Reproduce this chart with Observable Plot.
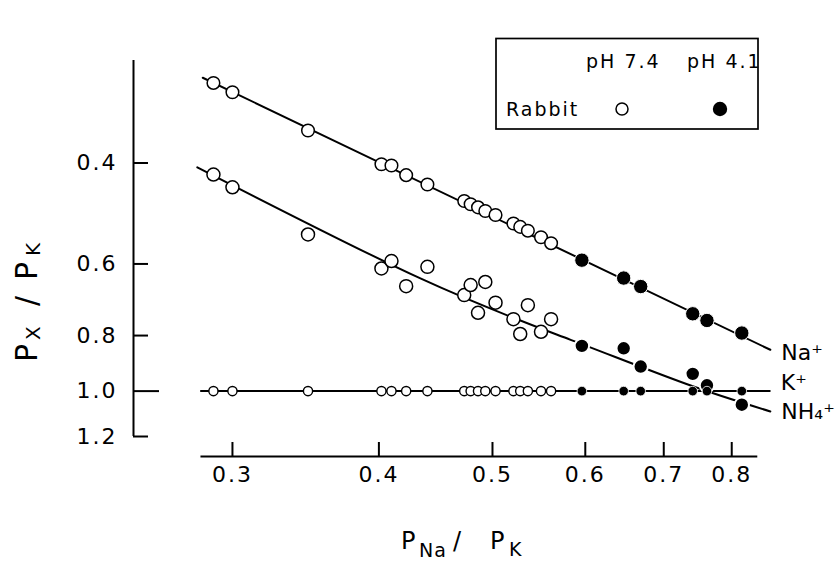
<!DOCTYPE html>
<html>
<head>
<meta charset="utf-8">
<script src="https://cdn.jsdelivr.net/npm/d3@7"></script>
<script src="https://cdn.jsdelivr.net/npm/@observablehq/plot@0.6"></script>
<style>
  body { margin: 0; background: #fff; }
  #wrap { position: relative; width: 838px; height: 562px; background: #fff; }
  #wrap svg { position: absolute; left: 0; top: 0; }
  g[aria-label$="tick label"] { letter-spacing: 2px; }
</style>
</head>
<body>
<div id="wrap"></div>
<script>
// ---- data ----
const xTicks = [0.3, 0.4, 0.5, 0.6, 0.7, 0.8];
const yTicks = [0.4, 0.6, 0.8, 1.0, 1.2];
const xDomain = [0.247, 0.865];
const yDomain = [0.265, 1.2];
const xAxisExtent = [0.282, 0.842];

// pH 7.4 experiments (open symbols)
const openX    = [0.289, 0.300, 0.348, 0.402, 0.410, 0.422, 0.440, 0.473, 0.479, 0.486, 0.493, 0.503, 0.521, 0.528, 0.536, 0.550, 0.561];
const naOpenY  = [0.290, 0.301, 0.351, 0.402, 0.404, 0.420, 0.436, 0.466, 0.472, 0.478, 0.485, 0.493, 0.510, 0.517, 0.525, 0.539, 0.552];
const nh4OpenY = [0.419, 0.441, 0.533, 0.611, 0.593, 0.656, 0.607, 0.680, 0.653, 0.730, 0.645, 0.701, 0.749, 0.795, 0.708, 0.788, 0.749];
// pH 4.1 experiments (filled symbols)
const filledX    = [0.596, 0.647, 0.669, 0.741, 0.762, 0.816];
const naFilledY  = [0.591, 0.635, 0.657, 0.733, 0.753, 0.792];
const nh4FilledY = [0.834, 0.842, 0.906, 0.933, 0.977, 1.056];

// drawn fit lines
const naLineX = [0.283, 0.863];
const naLineY = [0.284, 0.847];
const kLineX = [0.282, 0.862];
const nh4CurveX = [0.280, 0.434, 0.583, 0.731, 0.863];
const nh4CurveY = [0.407, 0.636, 0.814, 0.971, 1.085];

const ionLabels = ["Na\u207A", "K\u207A", "NH\u2084\u207A"];
const legendHeads = ["pH 7.4", "pH 4.1"];
const species = "Rabbit";

const FONT = "'DejaVu Sans', 'Liberation Sans', sans-serif";
const fmt = d3.format(".1f");
const one = () => 1;
const last = a => a[a.length - 1];

const labelData = [
  {t: ionLabels[0], x: last(naLineX), y: last(naLineY), dy: 10},
  {t: ionLabels[1], x: last(kLineX), y: 1, dy: -1},
  {t: ionLabels[2], x: last(nh4CurveX), y: last(nh4CurveY), dy: 8}
];

const chart = Plot.plot({
  width: 838,
  height: 562,
  marginTop: 60,
  marginRight: 67,
  marginBottom: 106,
  marginLeft: 133,
  x: {type: "log", domain: xDomain},
  y: {type: "log", domain: yDomain, range: [60, 436]},
  style: `font-family: ${FONT}; font-size: 22px; color: #000; background: transparent; overflow: visible;`,
  marks: [
    // axis lines
    Plot.ruleX([xDomain[0]], {y1: () => yDomain[0], y2: () => yDomain[1], strokeWidth: 2}),
    Plot.ruleY([yDomain[1]], {x1: () => xAxisExtent[0], x2: () => xAxisExtent[1], dy: 20, strokeWidth: 2}),
    // y ticks (inward), the 1.0 tick is longer
    Plot.axisY({ticks: yTicks.filter(d => d !== 1), tickSize: -15, tickPadding: 31, tickFormat: fmt, strokeWidth: 2, fontSize: 22, label: null}),
    Plot.axisY({ticks: [1.0], tickSize: -26, tickPadding: 42, tickFormat: fmt, strokeWidth: 2, fontSize: 22, label: null}),
    // x ticks (upward)
    Plot.axisX({ticks: xTicks, tickSize: -14, tickPadding: 24, tickFormat: fmt, strokeWidth: 2, fontSize: 22, label: null}),
    // fit lines
    Plot.line(naLineX, {x: d => d, y: (d, i) => naLineY[i], strokeWidth: 2}),
    Plot.line(kLineX, {x: d => d, y: one, strokeWidth: 2}),
    Plot.line(nh4CurveX, {x: d => d, y: (d, i) => nh4CurveY[i], curve: "natural", strokeWidth: 2}),
    // pH 7.4 open symbols
    Plot.dot(openX, {x: d => d, y: (d, i) => naOpenY[i], r: 6.3, fill: "white", stroke: "black", strokeWidth: 1.5}),
    Plot.dot(openX, {x: d => d, y: (d, i) => nh4OpenY[i], r: 6.5, fill: "white", stroke: "black", strokeWidth: 1.5}),
    Plot.dot(openX, {x: d => d, y: one, r: 4.6, fill: "white", stroke: "black", strokeWidth: 1.4}),
    // pH 4.1 filled symbols
    Plot.dot(filledX, {x: d => d, y: (d, i) => naFilledY[i], r: 7.2, fill: "black", stroke: "white", strokeWidth: 1}),
    Plot.dot(filledX, {x: d => d, y: (d, i) => nh4FilledY[i], r: 7.2, fill: "black", stroke: "white", strokeWidth: 2}),
    Plot.dot(filledX, {x: d => d, y: one, r: 4.8, fill: "black", stroke: "white", strokeWidth: 0.8}),
    // ion labels
    ...labelData.map(L => Plot.text([L], {x: "x", y: "y", text: "t", textAnchor: "start", lineAnchor: "bottom", dx: 11, dy: L.dy, fontSize: 22}))
  ]
});
document.getElementById("wrap").appendChild(chart);

// ---- titles and legend overlay ----
const ov = d3.select("#wrap").append("svg")
  .attr("width", 838).attr("height", 562)
  .style("font-family", FONT).style("pointer-events", "none");

// x title: P_Na / P_K
const xt = ov.append("text").attr("y", 549).attr("font-size", 24).attr("letter-spacing", 1);
xt.append("tspan").attr("x", 401).text("P");
xt.append("tspan").attr("x", 419).attr("dy", 8).attr("font-size", 19).text("Na");
xt.append("tspan").attr("x", 453).attr("dy", -8).text("/");
xt.append("tspan").attr("x", 490).text("P");
xt.append("tspan").attr("x", 509).attr("dy", 7).attr("font-size", 19).text("K");

// y title: P_X / P_K (rotated)
const yt = ov.append("text").attr("transform", "translate(37,362) rotate(-90)").attr("font-size", 30);
yt.append("tspan").attr("x", 0).text("P");
yt.append("tspan").attr("x", 22).attr("dy", 3).attr("font-size", 20).text("X");
yt.append("tspan").attr("x", 56).attr("dy", -3).text("/");
yt.append("tspan").attr("x", 82).text("P");
yt.append("tspan").attr("x", 106).attr("dy", 3).attr("font-size", 20).text("K");

// legend box
const lg = ov.append("g").attr("font-size", 19).attr("letter-spacing", 2);
lg.append("rect").attr("x", 496).attr("y", 38.5).attr("width", 262).attr("height", 90.5)
  .attr("fill", "white").attr("stroke", "black").attr("stroke-width", 1.7);
lg.append("text").attr("x", 586).attr("y", 68).text(legendHeads[0]);
lg.append("text").attr("x", 687).attr("y", 68).text(legendHeads[1]);
lg.append("text").attr("x", 506).attr("y", 116).text(species);
lg.append("circle").attr("cx", 622).attr("cy", 109).attr("r", 6).attr("fill", "white").attr("stroke", "black").attr("stroke-width", 1.5);
lg.append("circle").attr("cx", 720).attr("cy", 109).attr("r", 7.2).attr("fill", "black");
</script>
</body>
</html>
